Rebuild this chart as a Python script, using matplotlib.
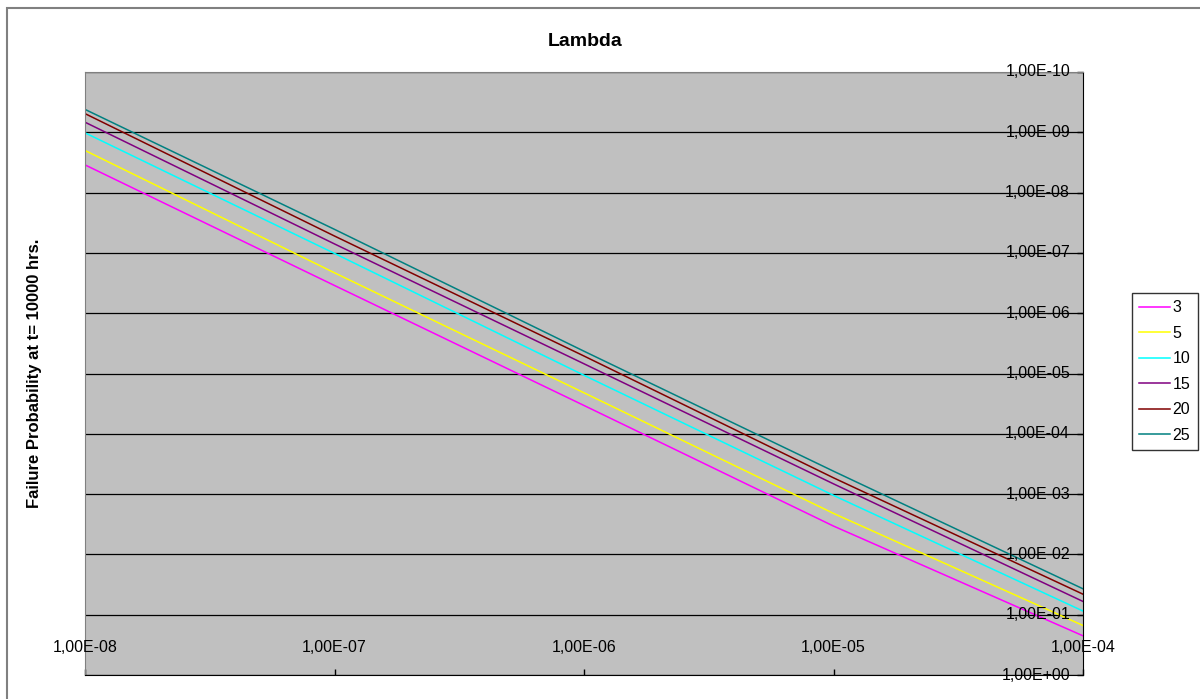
import matplotlib
matplotlib.use("Agg")
import matplotlib.pyplot as plt
import matplotlib.patches as patches
import matplotlib.transforms as mtransforms

### Daten
lam = [1e-8, 1e-7, 1e-6, 1e-5, 1e-4]
series_names = ["3", "5", "10", "15", "20", "25"]
p_3 = [3.47e-9, 3.47e-7, 3.39e-5, 3.39e-3, 0.224]
p_5 = [2.0e-9, 2.14e-7, 2.09e-5, 2.09e-3, 0.151]
p_10 = [1.02e-9, 1.02e-7, 1.07e-5, 1.05e-3, 0.087]
p_15 = [6.8e-10, 7.1e-8, 6.9e-6, 6.76e-4, 0.0603]
p_20 = [4.9e-10, 5.25e-8, 5.13e-6, 5.37e-4, 0.0457]
p_25 = [4.17e-10, 4.07e-8, 4.27e-6, 4.17e-4, 0.0372]
series_values = [p_3, p_5, p_10, p_15, p_20, p_25]
colors = ["#FF00FF", "#FFFF00", "#00FFFF", "#800080", "#800000", "#008080"]

x_ticks = [1e-8, 1e-7, 1e-6, 1e-5, 1e-4]
x_labels = ["1,00E-08", "1,00E-07", "1,00E-06", "1,00E-05", "1,00E-04"]
y_ticks = [1e-10, 1e-9, 1e-8, 1e-7, 1e-6, 1e-5, 1e-4, 1e-3, 1e-2, 1e-1, 1e0]
y_labels = ["1,00E-10", "1,00E-09", "1,00E-08", "1,00E-07", "1,00E-06", "1,00E-05",
            "1,00E-04", "1,00E-03", "1,00E-02", "1,00E-01", "1,00E+00"]

plt.rcParams["font.family"] = ["Liberation Sans", "DejaVu Sans"]

### Plot
fig = plt.figure(figsize=(12, 6.99), dpi=100)
ax = fig.add_axes([85/1200, 1-675/699, 998/1200, 603/699])
ax.set_facecolor("#C0C0C0")

for name, vals, c in zip(series_names, series_values, colors):
    ax.plot(lam, vals, color=c, lw=1.1, label=name)

ax.set_xscale("log")
ax.set_yscale("log")
ax.set_xlim(1e-8, 1e-4)
ax.set_ylim(1e0, 1e-10)

for v in y_ticks:
    ax.axhline(v, color="black", lw=0.9, zorder=1)

ax.set_xticks(x_ticks)
ax.set_yticks(y_ticks)
ax.xaxis.set_minor_locator(matplotlib.ticker.NullLocator())
ax.yaxis.set_minor_locator(matplotlib.ticker.NullLocator())
ax.set_xticklabels([])
ax.set_yticklabels([])
ax.yaxis.tick_right()
ax.tick_params(axis="both", direction="in", length=4, width=1, color="black")

ax.spines["left"].set_color("#808080")
ax.spines["top"].set_color("#808080")
ax.spines["bottom"].set_color("black")
ax.spines["right"].set_color("black")

# Achsenbeschriftungen innerhalb der Zeichenflaeche (wie Excel)
tx = mtransforms.blended_transform_factory(ax.transData, ax.transAxes)
for v, s in zip(x_ticks, x_labels):
    ax.text(v, 0.046, s, transform=tx, ha="center", va="center", fontsize=11.5)
ty = mtransforms.blended_transform_factory(ax.transAxes, ax.transData)
for v, s in zip(y_ticks, y_labels):
    ax.text(0.987, v, s, transform=ty, ha="right", va="center", fontsize=11.5)

fig.text(585/1200, 1-41/699, "Lambda", ha="center", va="center",
         fontsize=14, fontweight="bold")
fig.text(35/1200, 1-373/699, "Failure Probability at t= 10000 hrs.", rotation=90,
         ha="center", va="center", fontsize=12, fontweight="bold")

leg = ax.legend(loc="upper left", bbox_to_anchor=(1132/1200, 1-293/699),
                bbox_transform=fig.transFigure, fontsize=11.5, frameon=True,
                fancybox=False, edgecolor="black", handlelength=1.9,
                handletextpad=0.2, labelspacing=0.66, borderpad=0.45,
                borderaxespad=0)
leg.get_frame().set_linewidth(1)
leg.get_frame().set_facecolor("white")

# Rahmen des Diagrammbereichs
fig.patches.append(patches.Rectangle((7/1200, -0.05), 1.1, 1-8/699+0.05,
                                     transform=fig.transFigure, fill=False,
                                     edgecolor="#808080", lw=1.5))

fig.savefig("out.png", dpi=100)
